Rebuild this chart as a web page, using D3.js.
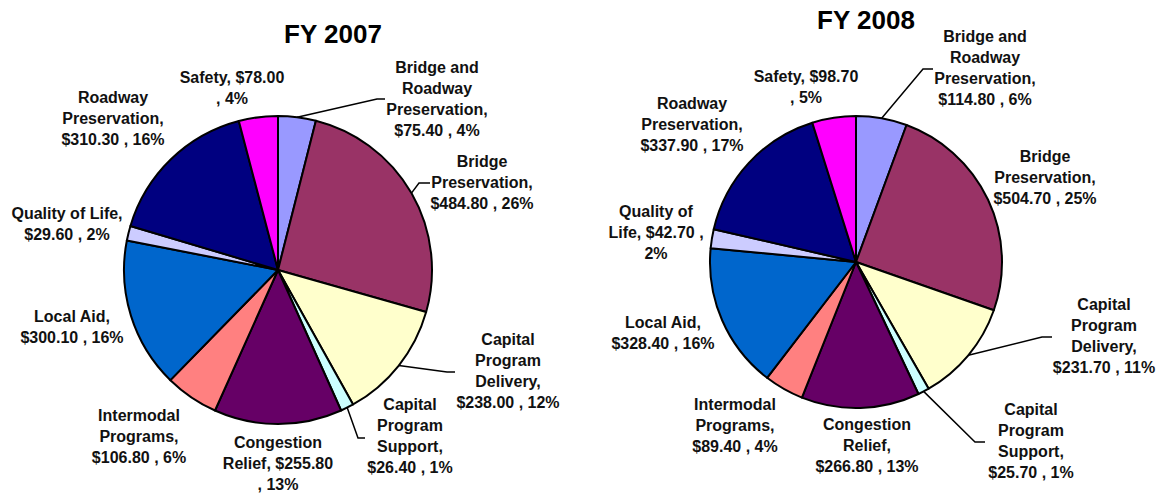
<!DOCTYPE html>
<html>
<head>
<meta charset="utf-8">
<script src="https://cdn.jsdelivr.net/npm/d3@7.9.0/dist/d3.min.js"></script>
<style>
  html, body { margin: 0; padding: 0; background: #fff; }
  svg { display: block; font-family: "Liberation Sans", Arial, sans-serif; font-weight: bold; }
</style>
</head>
<body>
<svg width="1158" height="495"></svg>
<script>
const categories = [
  'Bridge and Roadway Preservation', 'Bridge Preservation', 'Capital Program Delivery',
  'Capital Program Support', 'Congestion Relief', 'Intermodal Programs', 'Local Aid',
  'Quality of Life', 'Roadway Preservation', 'Safety'
];
const colorList = ['#9999FF', '#993366', '#FFFFCC', '#CCFFFF', '#660066',
  '#FF8080', '#0066CC', '#CCCCFF', '#000080', '#FF00FF'];

const fy2007Values = [75.4, 484.8, 238.0, 26.4, 255.8, 106.8, 300.1, 29.6, 310.3, 78.0];
const fy2007Pct = [4, 26, 12, 1, 13, 6, 16, 2, 16, 4];
const fy2008Values = [114.8, 504.7, 231.7, 25.7, 266.8, 89.4, 328.4, 42.7, 337.9, 98.7];
const fy2008Pct = [6, 25, 11, 1, 13, 4, 16, 2, 17, 5];

// label placement: centre x, first baseline, words per line, optional leader elbow/end
const layout2007 = [
  { x: 437, y: 73, words: [2, 1, 1, 3], leader: [[377, 99], [385, 99]] },
  { x: 482, y: 167, words: [1, 1, 3], leader: [[419, 183], [430, 183]] },
  { x: 508, y: 345, words: [1, 1, 1, 3], leader: [[447, 372], [455, 372]] },
  { x: 410, y: 410, words: [1, 1, 1, 3], leader: [[358, 438], [365, 438]] },
  { x: 278, y: 448, words: [1, 2, 2] },
  { x: 139, y: 421, words: [1, 1, 3] },
  { x: 72, y: 322, words: [2, 3] },
  { x: 67, y: 219, words: [3, 3] },
  { x: 113, y: 103, words: [1, 1, 3] },
  { x: 232, y: 83, words: [2, 2] }
];
const layout2008 = [
  { x: 985, y: 42, words: [2, 1, 1, 3], leader: [[923, 69], [933, 69]] },
  { x: 1045, y: 162, words: [1, 1, 3] },
  { x: 1104, y: 310, words: [1, 1, 1, 3], leader: [[1042, 337], [1052, 337]] },
  { x: 1031, y: 415, words: [1, 1, 1, 3], leader: [[975, 442], [985, 442]] },
  { x: 867, y: 430, words: [1, 1, 3] },
  { x: 735, y: 410, words: [1, 1, 3] },
  { x: 663, y: 328, words: [2, 3] },
  { x: 656, y: 217, words: [2, 3, 1] },
  { x: 692, y: 109, words: [1, 1, 3] },
  { x: 806, y: 82, words: [2, 2] }
];

const svg = d3.select('svg');
const color = d3.scaleOrdinal().domain(categories).range(colorList);
const lineH = 21;

function drawPie(title, titleX, cx, cy, r, values, pcts, layout) {
  const g = svg.append('g');
  g.append('text')
    .attr('x', titleX).attr('y', title === 'FY 2007' ? 43 : 29)
    .attr('text-anchor', 'middle')
    .attr('font-size', 26)
    .text(title);

  const data = categories.map((c, i) => ({ cat: c, value: values[i], pct: pcts[i] }));
  const arcs = d3.pie().sort(null).value((d) => d.value)(data);
  const arc = d3.arc().innerRadius(0).outerRadius(r);

  g.append('g').attr('transform', `translate(${cx},${cy})`)
    .selectAll('path')
    .data(arcs)
    .join('path')
    .attr('d', arc)
    .attr('fill', (d) => color(d.data.cat))
    .attr('stroke', '#000')
    .attr('stroke-width', 2)
    .attr('stroke-linejoin', 'round');

  arcs.forEach((a, i) => {
    const L = layout[i];
    if (L.leader) {
      const mid = (a.startAngle + a.endAngle) / 2;
      const start = [cx + r * Math.sin(mid), cy - r * Math.cos(mid)];
      g.append('path')
        .attr('d', d3.line()([start, ...L.leader]))
        .attr('fill', 'none')
        .attr('stroke', '#000')
        .attr('stroke-width', 1.5);
    }
    const d = a.data;
    const words = `${d.cat}, $${d.value.toFixed(2)} , ${d.pct}%`.split(' ');
    const lines = [];
    let k = 0;
    L.words.forEach((n) => { lines.push(words.slice(k, k + n).join(' ')); k += n; });
    const t = g.append('text')
      .attr('text-anchor', 'middle')
      .attr('font-size', 16)
      .attr('fill', '#111');
    lines.forEach((ln, j) => {
      t.append('tspan').attr('x', L.x).attr('y', L.y + j * lineH).text(ln);
    });
  });
}

drawPie('FY 2007', 333, 278, 270, 154, fy2007Values, fy2007Pct, layout2007);
drawPie('FY 2008', 866, 856, 262, 146, fy2008Values, fy2008Pct, layout2008);
</script>
</body>
</html>
